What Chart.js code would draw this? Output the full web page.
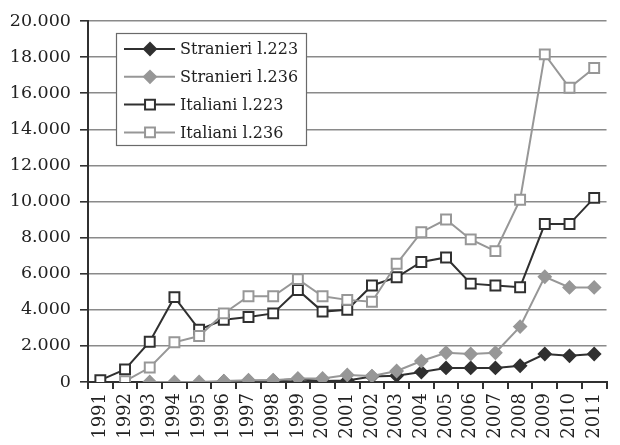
<!DOCTYPE html>
<html>
<head>
<meta charset="utf-8">
<title>Stranieri e Italiani</title>
<script src="https://cdn.jsdelivr.net/npm/chart.js@4/dist/chart.umd.min.js"></script>
<style>
    html, body { margin: 0; padding: 0; background: #fff; }
    #box { width: 620px; height: 445px; }
</style>
</head>
<body>
<div id="box"><canvas id="grafico"></canvas></div>
<script>
var anni = ['1991', '1992', '1993', '1994', '1995', '1996', '1997', '1998', '1999', '2000',
            '2001', '2002', '2003', '2004', '2005', '2006', '2007', '2008', '2009', '2010', '2011'];

var stranieri223 = [null, null, null, null, null, 30, 60, 80, 150, 50, 80, 300, 350, 550, 780, 780, 780, 900, 1550, 1450, 1550];
var stranieri236 = [null, null, 0, 0, 0, 50, 100, 100, 200, 200, 390, 330, 610, 1160, 1620, 1550, 1620, 3070, 5830, 5240, 5240];
var italiani223 = [100, 700, 2230, 4700, 2900, 3450, 3600, 3800, 5100, 3900, 4000, 5350, 5800, 6650, 6900, 5450, 5350, 5250, 8750, 8750, 10200];
var italiani236 = [null, 50, 800, 2200, 2550, 3800, 4750, 4750, 5700, 4750, 4550, 4450, 6550, 8300, 9000, 7900, 7250, 10100, 18150, 16300, 17400];

var yMin = 0, yMax = 20000, yStep = 2000;

var scuro = '#303030';
var chiaro = '#979797';
var serif = '"DejaVu Serif", serif';

Chart.defaults.font.family = serif;
Chart.defaults.color = '#222';

// numeri con il punto delle migliaia
function migliaia(v) {
    return String(v).replace(/\B(?=(\d{3})+(?!\d))/g, '.');
}

function serie(nome, dati, colore, stile, pieno, r, ordine) {
    return {
        label: nome,
        data: dati,
        borderColor: colore,
        borderWidth: 2,
        backgroundColor: pieno ? colore : '#fff',
        pointStyle: stile,
        pointRadius: r,
        pointHoverRadius: r,
        pointBorderColor: colore,
        pointBackgroundColor: pieno ? colore : '#fff',
        pointBorderWidth: 2,
        tension: 0,
        order: ordine
    };
}

// legenda con riquadro, disegnata a mano dentro il grafico
var legendaBox = {
    id: 'legendaBox',
    afterDatasetsDraw: function(chart) {
        var ctx = chart.ctx;
        var x0 = 116, y0 = 33, w = 190, h = 112;
        ctx.save();
        ctx.fillStyle = '#fff';
        ctx.fillRect(x0, y0, w, h);
        ctx.strokeStyle = '#6a6a6a';
        ctx.lineWidth = 1.2;
        ctx.strokeRect(x0 + 0.5, y0 + 0.5, w, h);
        chart.data.datasets.forEach(function(ds, i) {
            var y = 49 + i * 27.8;
            ctx.strokeStyle = ds.borderColor;
            ctx.lineWidth = 2;
            ctx.beginPath();
            ctx.moveTo(124, y);
            ctx.lineTo(175, y);
            ctx.stroke();
            var cx = 150;
            ctx.beginPath();
            if (ds.pointStyle === 'rectRot') {
                var r = ds.pointRadius;
                ctx.moveTo(cx - r, y);
                ctx.lineTo(cx, y - r);
                ctx.lineTo(cx + r, y);
                ctx.lineTo(cx, y + r);
                ctx.closePath();
            } else {
                var s = ds.pointRadius * Math.SQRT1_2;
                ctx.rect(cx - s, y - s, 2 * s, 2 * s);
            }
            ctx.fillStyle = ds.pointBackgroundColor;
            ctx.fill();
            ctx.strokeStyle = ds.pointBorderColor;
            ctx.stroke();
            ctx.fillStyle = '#222';
            ctx.font = '16px ' + serif;
            ctx.textBaseline = 'middle';
            ctx.fillText(ds.label, 180, y + 1);
        });
        ctx.restore();
    }
};

var grafico = new Chart(document.getElementById('grafico'), {
    type: 'line',
    data: {
        labels: anni,
        datasets: [
            serie('Stranieri l.223', stranieri223, scuro, 'rectRot', true, 6, 3),
            serie('Stranieri l.236', stranieri236, chiaro, 'rectRot', true, 6, 2),
            serie('Italiani l.223', italiani223, scuro, 'rect', false, 7, 1),
            serie('Italiani l.236', italiani236, chiaro, 'rect', false, 7, 0)
        ]
    },
    options: {
        responsive: true,
        maintainAspectRatio: false,
        animation: false,
        layout: { padding: { top: 21, right: 0, left: 0, bottom: 0 } },
        plugins: {
            legend: { display: false },
            tooltip: { enabled: false }
        },
        scales: {
            x: {
                offset: true,
                grid: {
                    offset: true,
                    drawOnChartArea: false,
                    drawTicks: true,
                    tickLength: 7,
                    tickColor: scuro,
                    lineWidth: 2
                },
                border: { color: scuro, width: 2 },
                ticks: {
                    minRotation: 90,
                    maxRotation: 90,
                    autoSkip: false,
                    padding: 4,
                    font: { size: 18 },
                    color: '#222'
                },
                afterFit: function(scale) { scale.height = 63; }
            },
            y: {
                min: yMin,
                max: yMax,
                grid: {
                    color: '#8a8a8a',
                    lineWidth: 1.6,
                    tickLength: 8,
                    tickColor: scuro
                },
                border: { color: scuro, width: 2 },
                ticks: {
                    stepSize: yStep,
                    padding: 9,
                    font: { size: 17.5 },
                    color: '#222',
                    callback: function(v) { return migliaia(v); }
                },
                afterFit: function(scale) { scale.width = 88; }
            }
        }
    },
    plugins: [legendaBox]
});
</script>
</body>
</html>
